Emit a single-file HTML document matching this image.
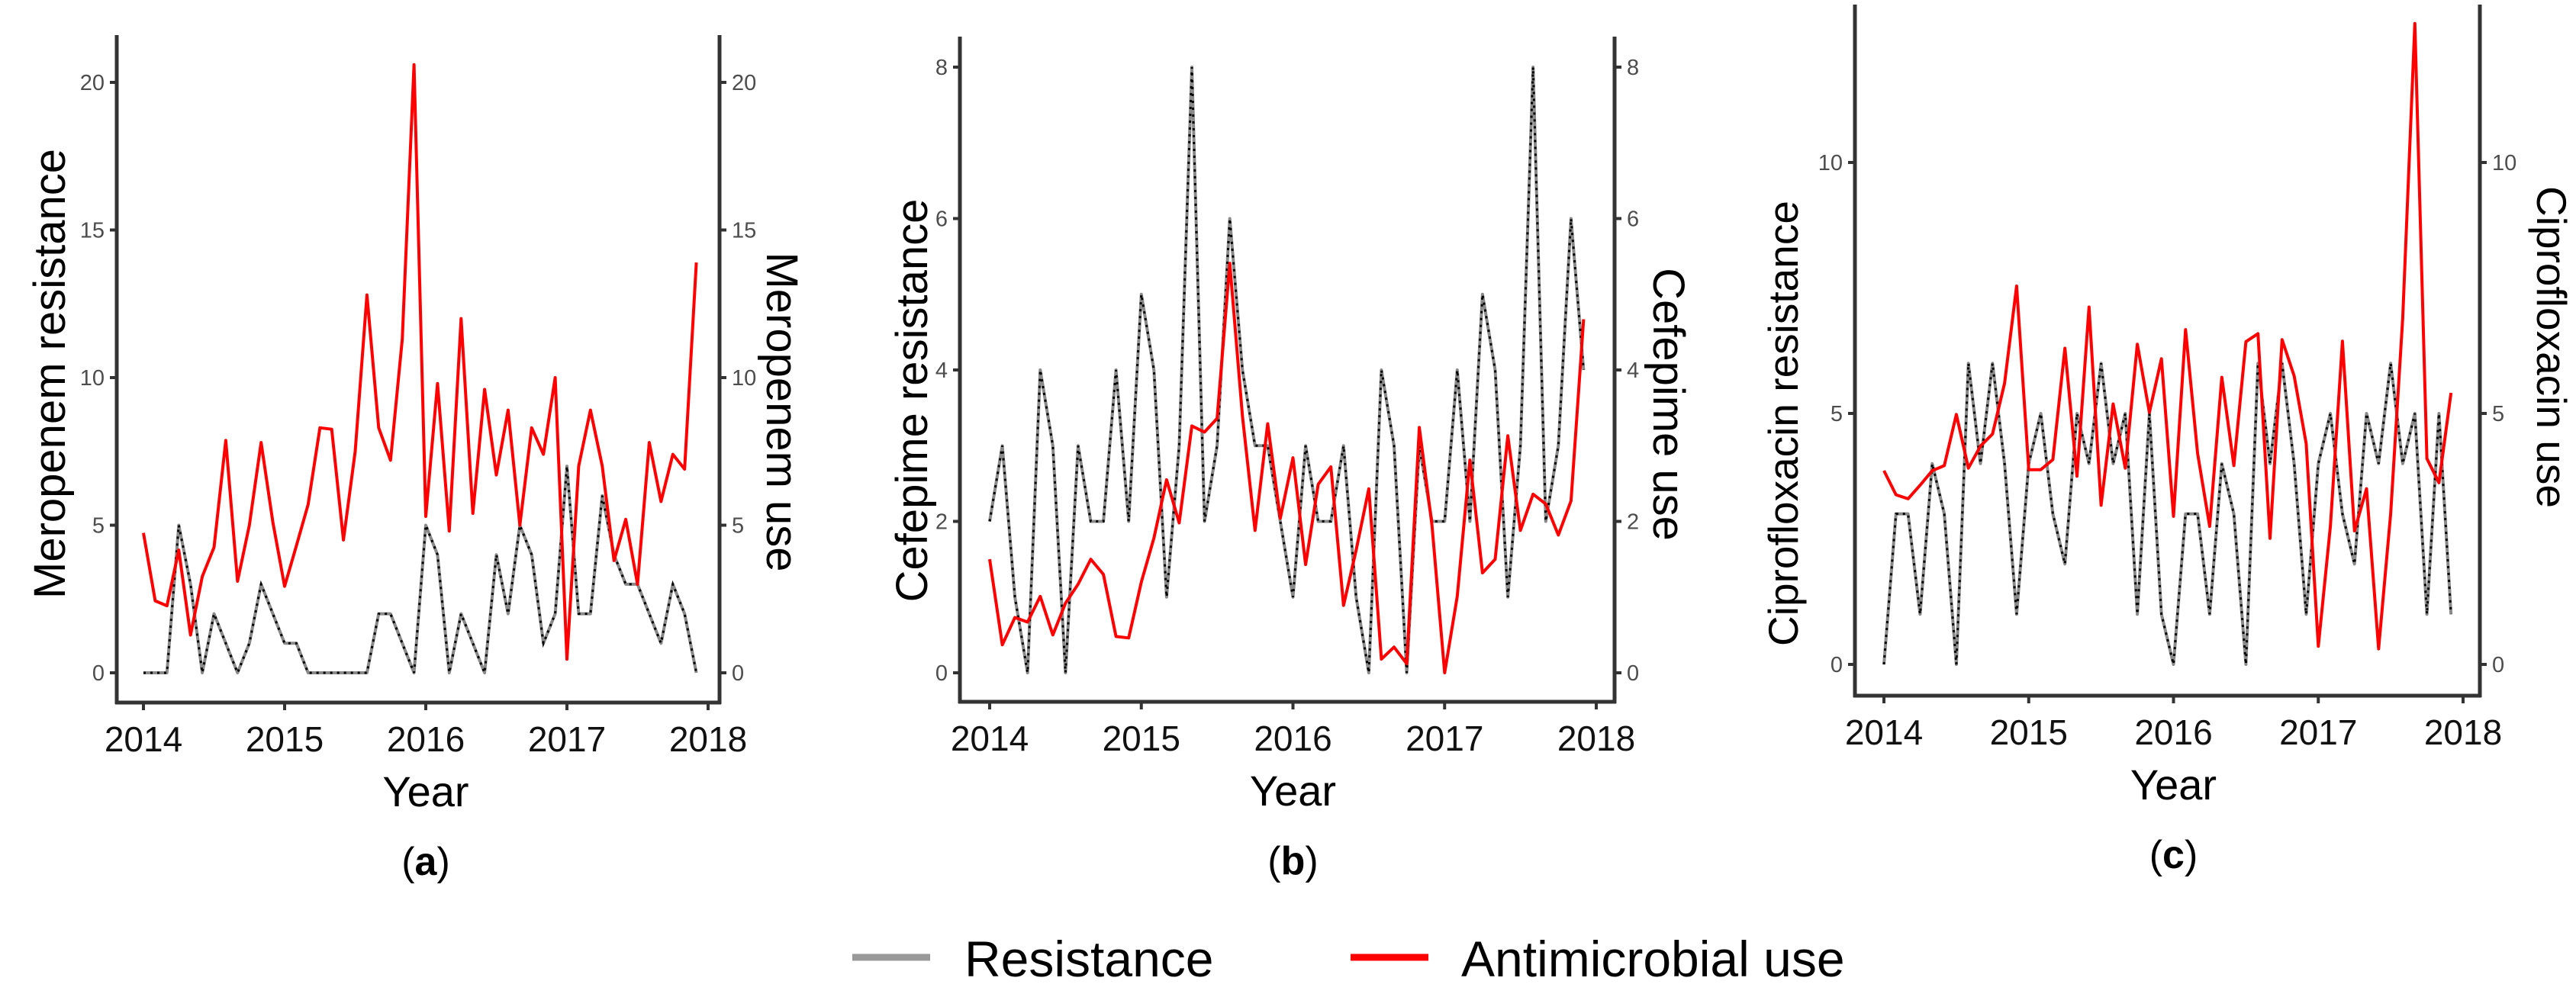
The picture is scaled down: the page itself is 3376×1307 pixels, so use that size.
<!DOCTYPE html>
<html><head><meta charset="utf-8"><style>
html,body{margin:0;padding:0;background:#fff;}
svg{display:block;font-family:"Liberation Sans",Arial,sans-serif;}
</style></head><body>
<svg id="chart" width="3376" height="1307" viewBox="0 0 3376 1307" xmlns="http://www.w3.org/2000/svg">
<rect width="3376" height="1307" fill="#fff"/>
<g id="panels"></g>
<g>
 <line x1="1117" y1="1255" x2="1219" y2="1255" stroke="#999" stroke-width="9"/>
 <text x="1264" y="1280" font-size="66">Resistance</text>
 <line x1="1770" y1="1255" x2="1872" y2="1255" stroke="#f00" stroke-width="9"/>
 <text x="1915" y="1280" font-size="66">Antimicrobial use</text>
</g>
</svg>
<script>
const years = [2014, 2015, 2016, 2017, 2018];
const merResistance = [0,0,0,5,3,0,2,1,0,1,3,2, 1,1,0,0,0,0,0,0,2,2,1,0, 5,4,0,2,1,0,4,2,5,4,1,2, 7,2,2,6,4,3,3,2,1,3,2,0];
const merUse = [4.74,2.44,2.27,4.16,1.28,3.26,4.25,7.87,3.1,5.0,7.8,5.1, 2.93,4.3,5.7,8.3,8.25,4.5,7.5,12.8,8.3,7.2,11.3,20.6, 5.3,9.8,4.8,12.0,5.4,9.6,6.7,8.9,5.0,8.3,7.4,10.0, 0.46,7.0,8.9,7.0,3.8,5.2,3.0,7.8,5.8,7.4,6.9,13.9];
const merTicks = [0,5,10,15,20];
const cefResistance = [2,3,1,0,4,3,0,3,2,2,4,2, 5,4,1,3,8,2,3,6,4,3,3,2, 1,3,2,2,3,1,0,4,3,0,3,2, 2,4,2,5,4,1,3,8,2,3,6,4];
const cefUse = [1.5,0.37,0.73,0.67,1.01,0.5,0.92,1.17,1.5,1.3,0.48,0.46, 1.2,1.78,2.55,1.98,3.26,3.18,3.36,5.41,3.39,1.88,3.29,2.04, 2.84,1.43,2.49,2.72,0.89,1.62,2.43,0.18,0.34,0.12,3.24,1.95, 0,1.01,2.81,1.32,1.5,3.13,1.88,2.36,2.23,1.82,2.27,4.67];
const cefTicks = [0,2,4,6,8];
const ciprResistance = [0,3,3,1,4,3,0,6,4,6,4,1, 4,5,3,2,5,4,6,4,5,1,5,1, 0,3,3,1,4,3,0,6,4,6,4,1, 4,5,3,2,5,4,6,4,5,1,5,1];
const ciprUse = [3.86,3.38,3.3,3.57,3.86,3.96,4.98,3.91,4.35,4.59,5.6,7.54, 3.88,3.88,4.08,6.3,3.75,7.12,3.17,5.19,3.91,6.38,5.02,6.09, 2.95,6.67,4.2,2.75,5.72,3.96,6.43,6.59,2.51,6.47,5.75,4.4, 0.36,2.75,6.44,2.66,3.5,0.31,3.0,6.9,12.77,4.1,3.62,5.41];
const ciprTicks = [0,5,10];

const panels = [
 {id:'a', res:merResistance, use:merUse, ticks:merTicks, left:153, right:943, top:46, bottom:921, x0:188, x1:928, y0:882, ppu:38.7,
  lt:'Meropenem resistance', rt:'Meropenem use', ltx:85, lty:490, rtx:1005, rty:540, fs:58},
 {id:'b', res:cefResistance, use:cefUse, ticks:cefTicks, left:1258, right:2116, top:48, bottom:920, x0:1297, x1:2092, y0:882, ppu:99.25,
  lt:'Cefepime resistance', rt:'Cefepime use', ltx:1215, lty:525, rtx:2167, rty:530, fs:58},
 {id:'c', res:ciprResistance, use:ciprUse, ticks:ciprTicks, left:2431, right:3250, top:6, bottom:912, x0:2469, x1:3228, y0:871, ppu:65.8,
  lt:'Ciprofloxacin resistance', rt:'Ciprofloxacin use', ltx:2356, lty:555, rtx:3325, rty:455, fs:55}
];
const NS='http://www.w3.org/2000/svg';
const root=document.getElementById('panels');
function mk(tag, attrs, parent){const e=document.createElementNS(NS,tag);for(const k in attrs)e.setAttribute(k,attrs[k]);parent.appendChild(e);return e;}
panels.forEach(p=>{
 const g=mk('g',{},root);
 
 
 const xs=i=>p.x0+(p.x1-p.x0)*i/48;
 const xy=y=>p.x0+(p.x1-p.x0)*(y-2014)/4;
 const ys=v=>p.y0-v*p.ppu;
 const la=mk('line',{x1:p.left,y1:p.top,x2:p.left,y2:p.bottom+2,stroke:'#333','stroke-width':5},g);
 
 
 const ra=mk('line',{x1:p.right,y1:p.top,x2:p.right,y2:p.bottom+2,stroke:'#333','stroke-width':5},g);
 
 
 const ba=mk('line',{x1:p.left-2,y1:p.bottom,x2:p.right+2,y2:p.bottom,stroke:'#333','stroke-width':5},g);
 
 
 p.ticks.forEach(t=>{
  const y=ys(t);
  mk('line',{x1:p.left-9,y1:y,x2:p.left,y2:y,stroke:'#333','stroke-width':4},g);
  mk('line',{x1:p.right,y1:y,x2:p.right+9,y2:y,stroke:'#333','stroke-width':4},g);
  const a=mk('text',{x:p.left-16,y:y+10,'font-size':29,fill:'#4d4d4d','text-anchor':'end'},g);a.textContent=t;
  
  
  const b=mk('text',{x:p.right+16,y:y+10,'font-size':29,fill:'#4d4d4d'},g);b.textContent=t;
  
  
 });
 years.forEach(yr=>{
  const x=xy(yr);
  mk('line',{x1:x,y1:p.bottom,x2:x,y2:p.bottom+10,stroke:'#333','stroke-width':4},g);
  const t=mk('text',{x:x,y:p.bottom+64,'font-size':46,fill:'#111','text-anchor':'middle'},g);t.textContent=yr;
  
  
 });
 const xt=mk('text',{x:(p.x0+p.x1)/2,y:p.bottom+136,'font-size':56,fill:'#000','text-anchor':'middle'},g);xt.textContent='Year';
 
 
 const cap=mk('text',{x:(p.x0+p.x1)/2,y:p.bottom+226,'font-size':52,fill:'#000','text-anchor':'middle'},g);
 cap.innerHTML='(<tspan font-weight="bold">'+p.id+'</tspan>)';
 
 
 const lt=mk('text',{x:0,y:0,'font-size':p.fs,fill:'#000','text-anchor':'middle',transform:`translate(${p.ltx},${p.lty}) rotate(-90)`},g);lt.textContent=p.lt;
 
 
 const rt=mk('text',{x:0,y:0,'font-size':p.fs,fill:'#000','text-anchor':'middle',transform:`translate(${p.rtx},${p.rty}) rotate(90)`},g);rt.textContent=p.rt;
 
 
 const rpts=p.res.map((v,i)=>xs(i).toFixed(1)+','+ys(v).toFixed(1)).join(' ');
 const r1=mk('polyline',{points:rpts,fill:'none',stroke:'#8a8a8a','stroke-width':4,'stroke-linejoin':'round'},g);
 
 
 const r2=mk('polyline',{points:rpts,fill:'none',stroke:'#000','stroke-width':3,'stroke-dasharray':'3 6'},g);
 
 
 const upts=p.use.map((v,i)=>xs(i).toFixed(1)+','+ys(v).toFixed(1)).join(' ');
 const u=mk('polyline',{points:upts,fill:'none',stroke:'#f00','stroke-width':4,'stroke-linejoin':'round'},g);
 
 
});
</script>
</body></html>
